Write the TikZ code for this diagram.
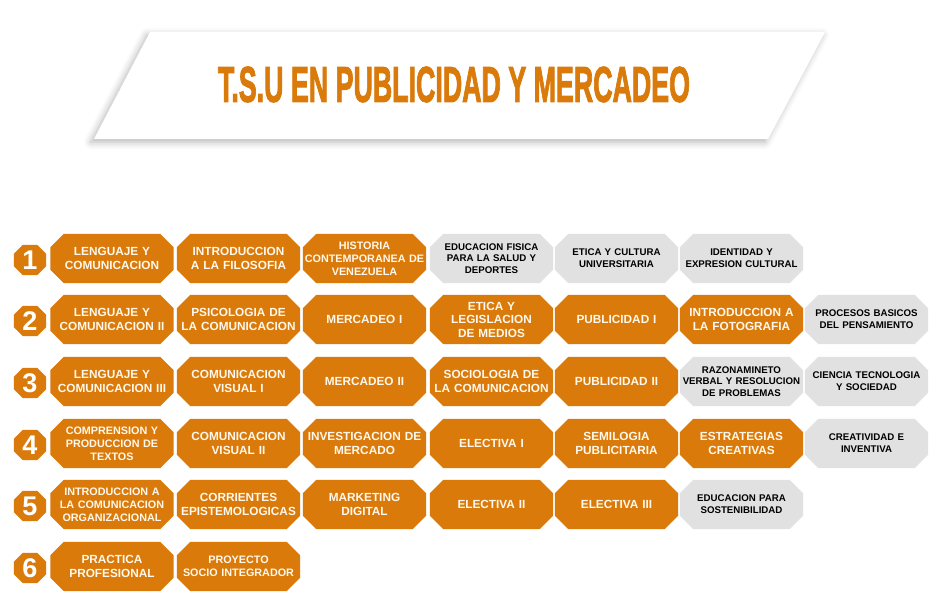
\documentclass[tikz,border=0pt]{standalone}
\usepackage{fontspec}
\usepackage{graphicx}
\setmainfont{Liberation Sans}
\newfontfamily\titlefont{Liberation Sans}[BoldFeatures={FakeBold=2.5}]
\usetikzlibrary{backgrounds,shadows.blur}
\definecolor{orng}{HTML}{D97A0A}
\definecolor{otext}{HTML}{FFF8EC}
\definecolor{gbox}{HTML}{E1E1E1}
\newcommand\octo[3]{%
  \begin{pgfonlayer}{background}
  \fill[#2] ([xshift=#3]#1.north west) -- ([xshift=-#3]#1.north east) --
    ([yshift=-#3]#1.north east) -- ([yshift=#3]#1.south east) --
    ([xshift=-#3]#1.south east) -- ([xshift=#3]#1.south west) --
    ([yshift=#3]#1.south west) -- ([yshift=-#3]#1.north west) -- cycle;
  \end{pgfonlayer}}
\newcommand\ocrs[5]{\node[#4] (#1) at (#2,#3) {#5};\octo{#1}{orng}{13.5pt}}
\newcommand\gcrs[4]{\node[gb] (#1) at (#2,#3) {#4};\octo{#1}{gbox}{13.5pt}}
\newcommand\numb[3]{\node[numbox] (#1) at (30,#2) {#3};\octo{#1}{orng}{9pt}}
\begin{document}
\begin{tikzpicture}[x=1pt,y=-1pt,
  course/.style={minimum height=49pt, inner sep=0pt, align=center, text width=123pt},
  ob/.style={course, text=otext, font=\bfseries\fontsize{11.8}{13.5}\selectfont},
  obs/.style={course, text=otext, font=\bfseries\fontsize{10.8}{13.2}\selectfont},
  gb/.style={course, text=black, font=\bfseries\fontsize{9.7}{11.8}\selectfont},
  numbox/.style={minimum width=32pt, minimum height=30pt, inner sep=0pt, text=white, font=\bfseries\fontsize{27}{27}\selectfont}
]
\useasboundingbox (0,0) rectangle (947,610);
% title banner
\fill[white, blur shadow={shadow xshift=-3pt, shadow yshift=-3pt, shadow blur radius=7pt, shadow opacity=30}]
  (150,32) -- (825,32) -- (768,139) -- (94,139) -- cycle;
\node[inner sep=0pt, text=orng] (title) at (454,84.5)
  {\resizebox{472pt}{35pt}{\titlefont\bfseries T.S.U EN PUBLICIDAD Y MERCADEO}};
% numbers
\numb{n1}{260}{1}
\numb{n2}{321}{2}
\numb{n3}{383}{3}
\numb{n4}{445}{4}
\numb{n5}{506}{5}
\numb{n6}{568}{6}
% row 1
\ocrs{a1}{112}{258.5}{ob}{LENGUAJE Y\\COMUNICACION}
\ocrs{a2}{238.5}{258.5}{ob}{INTRODUCCION\\A LA FILOSOFIA}
\ocrs{a3}{364.5}{258.5}{obs}{HISTORIA\\CONTEMPORANEA DE\\VENEZUELA}
\gcrs{a4}{491.5}{258.5}{EDUCACION FISICA\\PARA LA SALUD Y\\DEPORTES}
\gcrs{a5}{616.5}{258.5}{ETICA Y CULTURA\\UNIVERSITARIA}
\gcrs{a6}{741.5}{258.5}{IDENTIDAD Y\\EXPRESION CULTURAL}
% row 2
\ocrs{b1}{112}{319.5}{ob}{LENGUAJE Y\\COMUNICACION II}
\ocrs{b2}{238.5}{319.5}{ob}{PSICOLOGIA DE\\LA COMUNICACION}
\ocrs{b3}{364.5}{319.5}{ob}{MERCADEO I}
\ocrs{b4}{491.5}{319.5}{ob}{ETICA Y\\LEGISLACION\\DE MEDIOS}
\ocrs{b5}{616.5}{319.5}{ob}{PUBLICIDAD I}
\ocrs{b6}{741.5}{319.5}{ob}{INTRODUCCION A\\LA FOTOGRAFIA}
\gcrs{b7}{866.5}{319.5}{PROCESOS BASICOS\\DEL PENSAMIENTO}
% row 3
\ocrs{c1}{112}{381.5}{ob}{LENGUAJE Y\\COMUNICACION III}
\ocrs{c2}{238.5}{381.5}{ob}{COMUNICACION\\VISUAL I}
\ocrs{c3}{364.5}{381.5}{ob}{MERCADEO II}
\ocrs{c4}{491.5}{381.5}{ob}{SOCIOLOGIA DE\\LA COMUNICACION}
\ocrs{c5}{616.5}{381.5}{ob}{PUBLICIDAD II}
\gcrs{c6}{741.5}{381.5}{RAZONAMINETO\\VERBAL Y RESOLUCION\\DE PROBLEMAS}
\gcrs{c7}{866.5}{381.5}{CIENCIA TECNOLOGIA\\Y SOCIEDAD}
% row 4
\ocrs{d1}{112}{443.5}{obs}{COMPRENSION Y\\PRODUCCION DE\\TEXTOS}
\ocrs{d2}{238.5}{443.5}{ob}{COMUNICACION\\VISUAL II}
\ocrs{d3}{364.5}{443.5}{ob}{INVESTIGACION DE\\MERCADO}
\ocrs{d4}{491.5}{443.5}{ob}{ELECTIVA I}
\ocrs{d5}{616.5}{443.5}{ob}{SEMILOGIA\\PUBLICITARIA}
\ocrs{d6}{741.5}{443.5}{ob}{ESTRATEGIAS\\CREATIVAS}
\gcrs{d7}{866.5}{443.5}{CREATIVIDAD E\\INVENTIVA}
% row 5
\ocrs{e1}{112}{504.5}{obs}{INTRODUCCION A\\LA COMUNICACION\\ORGANIZACIONAL}
\ocrs{e2}{238.5}{504.5}{ob}{CORRIENTES\\EPISTEMOLOGICAS}
\ocrs{e3}{364.5}{504.5}{ob}{MARKETING\\DIGITAL}
\ocrs{e4}{491.5}{504.5}{ob}{ELECTIVA II}
\ocrs{e5}{616.5}{504.5}{ob}{ELECTIVA III}
\gcrs{e6}{741.5}{504.5}{EDUCACION PARA\\SOSTENIBILIDAD}
% row 6
\ocrs{f1}{112}{566.5}{ob}{PRACTICA\\PROFESIONAL}
\ocrs{f2}{238.5}{566.5}{obs}{PROYECTO\\SOCIO INTEGRADOR}
\end{tikzpicture}
\end{document}
